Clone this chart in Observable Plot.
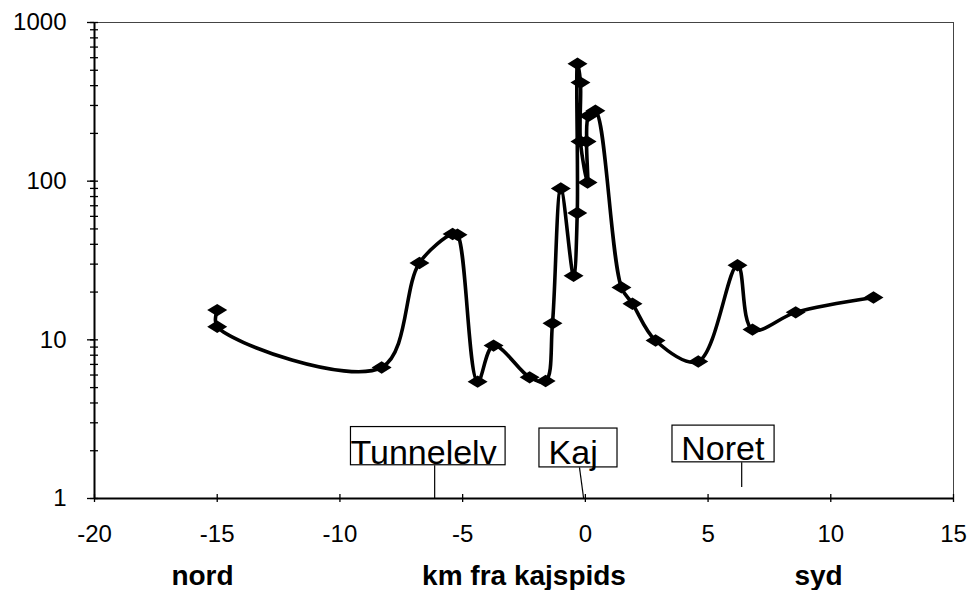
<!DOCTYPE html>
<html><head><meta charset="utf-8">
<script src="https://cdn.jsdelivr.net/npm/d3@7"></script>
<script src="https://cdn.jsdelivr.net/npm/@observablehq/plot@0.6"></script>
<style>
body{margin:0;background:#fff}
svg{font-family:"Liberation Sans",Arial,sans-serif}
</style>
</head><body><div id="chart"></div>
<script>
// distance from quay tip (km, negative = north) and measured value (log scale)
const km    = [-15, -15, -8.3, -6.76, -5.41, -5.21, -4.39, -3.74, -2.27, -1.62, -1.34, -1.0, -0.48, -0.33, -0.32, -0.2, -0.2, 0.09, 0.05, 0.13, 0.41, 1.47, 1.92, 2.86, 4.6, 6.2, 6.81, 8.57, 11.74];
const value = [15.4, 12.1, 6.7, 30.5, 46.5, 46, 5.45, 9.2, 5.8, 5.5, 12.7, 90, 25.3, 63, 550, 418, 178, 98, 178, 258, 278, 21.4, 16.9, 9.9, 7.3, 29.5, 11.6, 14.9, 18.5];

const xTicks = [-20, -15, -10, -5, 0, 5, 10, 15];
const yTicks = [1, 10, 100, 1000];
const yMinorTicks = [2,3,4,5,6,7,8,9,20,30,40,50,60,70,80,90,200,300,400,500,600,700,800,900];

// place annotations (boxed labels with a leader line down to the axis)
const placeName   = ["Tunnelelv", "Kaj", "Noret"];
const placeTextKm = [-9.57, -1.5, 3.91];
const placeTextY  = [1.66, 1.66, 1.74];
const placeBoxKm1 = [-9.55, -1.87, 3.55];
const placeBoxKm2 = [-3.25, 1.31, 7.71];
const placeBoxY1  = [1.62, 1.57, 1.69];
const placeBoxY2  = [2.82, 2.76, 2.88];
const leaderKm1   = [-6.14, -0.24, 6.37];
const leaderKm2   = [-6.14, -0.07, 6.37];
const leaderY1    = [1.62, 1.57, 1.69];
const leaderY2    = [1, 1, 1.18];

// labels below the axis
const bottomNote   = ["nord", "km fra kajspids", "syd"];
const bottomNoteKm = [-15.6, -2.5, 9.5];

const points = km.map((k, i) => ({km: k, value: value[i]}));
const places = placeName.map((n, i) => ({
  name: n, tx: placeTextKm[i], ty: placeTextY[i],
  bx1: placeBoxKm1[i], bx2: placeBoxKm2[i], by1: placeBoxY1[i], by2: placeBoxY2[i],
  lx1: leaderKm1[i], lx2: leaderKm2[i], ly1: leaderY1[i], ly2: leaderY2[i]
}));
const notes = bottomNote.map((n, i) => ({name: n, km: bottomNoteKm[i]}));

const flatDiamond = {
  draw(ctx, size) {
    const w = Math.sqrt(size / Math.PI), h = w * 0.62;
    ctx.moveTo(-w, 0); ctx.lineTo(0, -h); ctx.lineTo(w, 0); ctx.lineTo(0, h); ctx.closePath();
  }
};

const chart = Plot.plot({
  width: 972,
  height: 590,
  marginLeft: 94,
  marginRight: 19,
  marginTop: 22,
  marginBottom: 92,
  style: {fontFamily: '"Liberation Sans", Arial, sans-serif', background: "#fff"},
  x: {domain: [-20, 15]},
  y: {type: "log", domain: [1, 1000]},
  marks: [
    Plot.frame({stroke: "#444", strokeWidth: 1}),
    Plot.ruleY([1], {stroke: "#000", strokeWidth: 2}),
    Plot.ruleX([-20], {stroke: "#000", strokeWidth: 2}),
    // y ticks crossing the axis
    Plot.axisY({ticks: yTicks.concat(yMinorTicks), tickSize: 8, dx: 4, tickFormat: () => "", stroke: "#000", strokeWidth: 1.3}),
    Plot.axisY({ticks: yTicks, tickSize: 7, tickFormat: () => "", stroke: "#000", strokeWidth: 1.3}),
    Plot.axisY({ticks: yTicks, tickSize: 0, tickPadding: 28, tickFormat: d => String(d), fontSize: 24, fill: "#000", stroke: "#000", strokeWidth: 0.3, label: null}),
    // x ticks crossing the axis
    Plot.axisX({ticks: xTicks, tickSize: 8, dy: -4, tickFormat: () => "", stroke: "#000", strokeWidth: 1.3}),
    Plot.axisX({ticks: xTicks, tickSize: 0, tickPadding: 26, tickFormat: d => String(d), fontSize: 24, fill: "#000", stroke: "#000", strokeWidth: 0.3, label: null}),
    // annotations
    Plot.link(places, {x1: "lx1", y1: "ly1", x2: "lx2", y2: "ly2", stroke: "#000", strokeWidth: 1.2}),
    Plot.rect(places, {x1: "bx1", x2: "bx2", y1: "by1", y2: "by2", fill: "none", stroke: "#000", strokeWidth: 1.2}),
    Plot.text(places, {x: "tx", y: "ty", text: "name", textAnchor: "start", lineAnchor: "bottom", fontSize: 34, fill: "#000"}),
    // data
    Plot.line(points, {x: "km", y: "value", curve: "catmull-rom", stroke: "#000", strokeWidth: 3.6}),
    Plot.dot(points, {x: "km", y: "value", symbol: flatDiamond, r: 10, fill: "#000", stroke: "none"}),
    // bottom labels
    Plot.text(notes, {x: "km", frameAnchor: "bottom", dy: 86, lineAnchor: "bottom", text: "name", fontSize: 28, fontWeight: "bold", fill: "#000"})
  ]
});
document.getElementById("chart").appendChild(chart);
</script>
</body></html>
